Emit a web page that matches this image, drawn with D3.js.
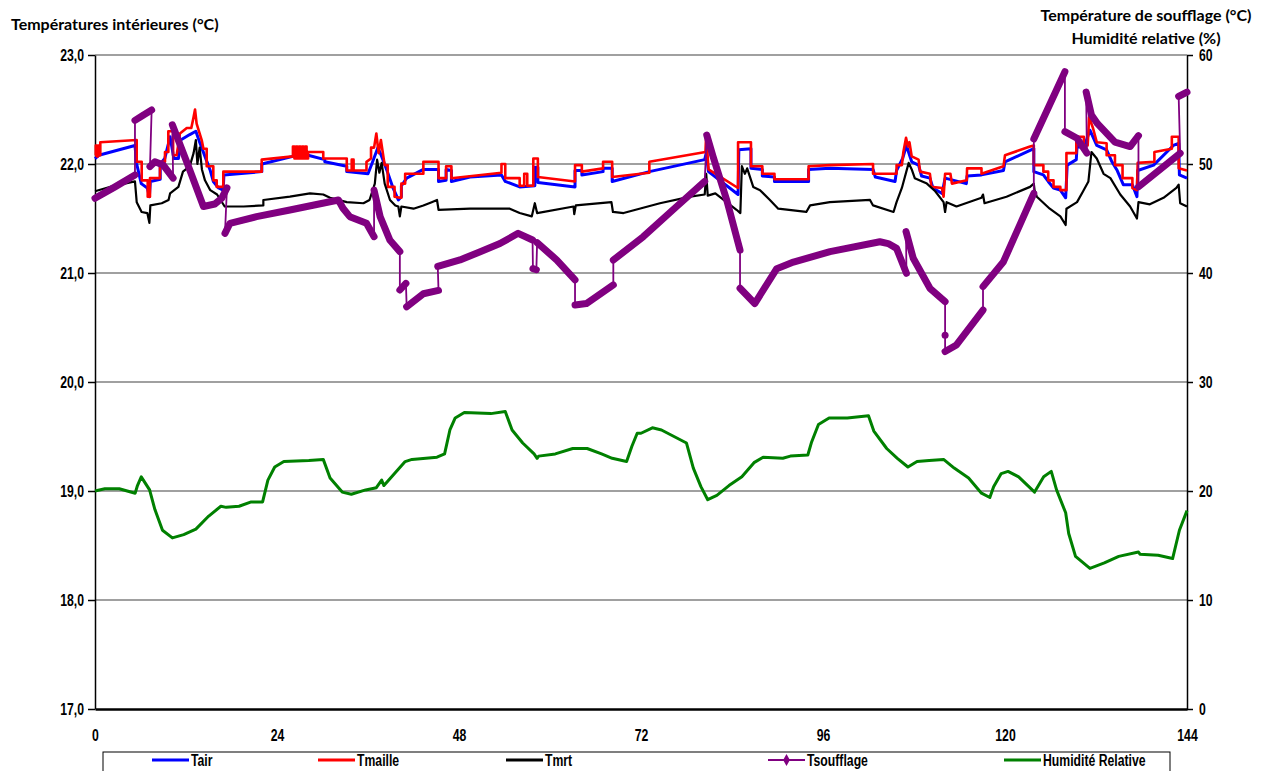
<!DOCTYPE html>
<html>
<head>
<meta charset="utf-8">
<script src="https://cdn.jsdelivr.net/npm/d3@7"></script>
<style>
  body { margin: 0; background: #fff; }
  svg text { font-family: "Liberation Sans", Arial, sans-serif; font-weight: bold; font-size: 17px; fill: #000; }
  svg text.title { font-family: Lato, "Open Sans", sans-serif; font-size: 16px; }
</style>
</head>
<body>
<svg id="chart" width="1263" height="771"></svg>
<script>
// Axis ticks
const hourTicks = [0, 24, 48, 72, 96, 120, 144];
const tempTicks = [17, 18, 19, 20, 21, 22, 23];
const pctTicks = [0, 10, 20, 30, 40, 50, 60];

const legendNames = ["Tair", "Tmaille", "Tmrt", "Tsoufflage", "Humidité Relative"];
const seriesColors = ["#0000ff", "#ff0000", "#000000", "#800080", "#008000"];

// Tair (°C) — [hour, value]
const tair = [
  [0,22.05],[0.5,22.08],[5.27,22.17],[5.5,22.0],[6.1,21.82],[6.9,21.78],[7.17,21.70],[7.3,21.84],[8.6,21.86],[8.6,22.0],
  [9.2,22.05],[9.9,22.25],[10.4,22.05],[11.0,22.05],[11.3,22.22],[12.5,22.27],[13.3,22.30],[13.8,22.2],[14.5,22.07],[15.2,21.94],
  [15.6,21.84],[16.3,21.78],[16.9,21.76],[17.0,21.90],[22.0,21.93],[22.0,22.0],[26.1,22.07],[28.1,22.08],[30.3,22.04],[30.3,22.02],
  [33.2,21.98],[33.2,21.93],[36.0,21.91],[36.5,22.0],[37.3,22.15],[37.8,22.07],[38.5,21.94],[39.3,21.78],[40.0,21.67],[40.4,21.7],
  [40.4,21.8],[41.1,21.87],[43.3,21.95],[45.3,21.95],[45.3,21.84],[46.3,21.85],[46.3,21.95],[47.0,21.94],[47.0,21.84],[49.45,21.88],
  [53.6,21.9],[54.1,21.84],[56.0,21.79],[58.0,21.8],[58.0,21.97],[58.4,21.97],[58.4,21.83],[63.3,21.79],[63.3,21.94],[64.2,21.94],
  [64.2,21.9],[67.0,21.93],[67.0,21.96],[68.2,21.96],[68.2,21.84],[73.1,21.93],[80.4,22.04],[80.6,22.1],[80.9,21.93],[84.8,21.72],
  [84.9,22.13],[86.5,22.14],[86.5,21.96],[88.0,21.95],[88.0,21.89],[89.6,21.88],[89.6,21.84],[94.1,21.84],[94.1,21.95],[96.9,21.96],
  [102.6,21.95],[102.9,21.88],[105.5,21.84],[105.7,21.94],[106.5,22.05],[107.0,22.17],[107.7,22.02],[108.6,21.99],[109.0,21.89],[110.1,21.87],
  [110.5,21.78],[111.7,21.73],[112.1,21.87],[114.9,21.82],[115.0,21.89],[116.9,21.9],[119.8,21.94],[120.0,22.02],[123.8,22.14],[123.8,21.93],
  [125.06,21.9],[125.7,21.84],[126.4,21.78],[127.3,21.76],[128.0,21.69],[128.2,21.99],[129.4,22.04],[129.5,22.16],[130.4,22.15],[131.2,22.31],
  [132.1,22.17],[133.4,22.13],[134.1,22.02],[134.8,21.94],[135.6,21.81],[136.8,21.81],[137.4,21.70],[137.5,21.94],[139.6,21.99],[142.2,22.17],
  [142.9,22.19],[143.0,21.90],[144,21.87]
];

// Tmaille (°C)
const tmaille = [
  [0,22.08],[0.1,22.08],[0.1,22.17],[0.25,22.17],[0.25,22.07],[0.4,22.07],[0.4,22.17],[0.55,22.17],[0.55,22.08],[0.7,22.08],
  [0.7,22.2],[5.5,22.22],[5.5,22.02],[6.16,22.02],[6.16,21.85],[6.95,21.85],
  [6.95,21.7],[7.25,21.7],[7.25,21.87],[8.57,21.87],[8.57,22.02],[9.23,22.02],[9.23,22.11],[9.67,22.11],[9.67,22.3],[10.3,22.3],
  [10.3,22.08],[10.77,22.08],[11.2,22.28],[12.1,22.33],[12.7,22.33],[13.0,22.43],[13.19,22.5],[13.4,22.37],[14.07,22.22],[14.3,22.14],
  [14.73,22.14],[14.73,21.98],[15.6,21.98],[15.6,21.85],[16.05,21.85],[16.05,21.79],[16.92,21.79],[16.92,21.93],[21.98,21.93],[21.98,22.04],
  [26.1,22.07],[26.1,22.16],[26.3,22.16],[26.3,22.05],[26.5,22.05],[26.5,22.16],[26.7,22.16],[26.7,22.05],[26.9,22.05],[26.9,22.16],
  [27.1,22.16],[27.1,22.05],[27.3,22.05],[27.3,22.16],[27.5,22.16],[27.5,22.05],[27.7,22.05],[27.7,22.16],[27.9,22.16],[27.9,22.05],
  [28.1,22.05],[28.1,22.11],[30.1,22.11],[30.1,22.05],
  [33.2,22.05],[33.2,21.94],[33.85,21.94],[33.85,22.04],[34.1,22.04],[34.1,21.94],[35.8,21.94],[35.8,22.02],[36.4,22.05],[36.4,22.15],
  [36.8,22.15],[37.1,22.28],[37.4,22.1],[37.7,22.22],[38.2,21.99],[38.6,21.99],[38.6,21.79],[39.5,21.79],[39.5,21.7],[40.2,21.69],
  [40.4,21.69],[40.4,21.82],[40.9,21.82],[40.9,21.91],[43.3,21.91],[43.3,22.02],[45.3,22.02],[45.3,21.87],[46.3,21.87],[46.3,21.98],
  [47.0,21.98],[47.0,21.87],[53.6,21.92],[53.6,22.0],[54.1,22.0],[54.1,21.87],[56.0,21.87],[56.0,21.8],[56.6,21.8],[56.6,21.91],
  [57.0,21.91],[57.0,21.8],[57.8,21.8],[57.8,22.05],[58.4,22.05],[58.4,21.88],[63.3,21.84],[63.3,21.99],[64.2,21.99],[64.2,21.93],
  [67.0,21.96],[67.0,22.02],[68.2,22.02],[68.2,21.88],[73.1,21.92],[73.1,22.02],[80.5,22.11],[80.6,22.28],[80.9,21.95],[84.8,21.78],
  [84.8,22.2],[86.5,22.2],[86.5,21.98],[88.0,21.98],[88.0,21.91],[89.6,21.91],[89.6,21.86],[94.1,21.86],[94.1,21.98],[96.9,21.99],
  [102.6,22.0],[102.6,21.91],[105.7,21.91],[105.7,21.99],[106.4,21.99],[106.6,22.11],[106.95,22.24],[107.2,22.16],[107.4,22.2],[107.7,22.07],
  [108.6,22.04],[108.8,21.93],[110.1,21.91],[110.3,21.79],[111.7,21.78],[111.9,21.70],[112.1,21.91],[112.8,21.91],[113.0,21.82],[114.95,21.85],
  [115.0,21.96],[116.9,21.96],[116.9,21.91],[119.8,21.98],[120.0,22.08],[123.3,22.16],[123.8,22.17],[123.8,21.99],[125.06,21.99],[125.06,21.93],
  [125.7,21.93],[125.7,21.85],[126.4,21.85],[126.4,21.79],[127.3,21.79],[127.3,21.76],[128.1,21.76],[128.1,22.1],[129.4,22.1],[129.4,22.25],
  [130.4,22.25],[130.4,22.17],[130.9,22.17],[131.1,22.43],[131.6,22.33],[132.1,22.2],[133.4,22.19],[133.4,22.08],[134.5,22.08],[134.5,21.99],
  [135.5,21.99],[135.5,21.87],[136.8,21.87],[136.8,21.78],[137.4,21.76],[137.5,22.01],[139.7,22.02],[139.7,22.11],[142.0,22.14],[142.0,22.25],
  [142.9,22.25],[142.9,21.96],[144,21.94]
];

// Tmrt (°C)
const tmrt = [
  [0,21.75],[2.5,21.8],[5.27,21.84],[5.5,21.65],[6.15,21.56],[6.9,21.55],[7.17,21.46],[7.3,21.62],[8.8,21.64],[9.7,21.67],
  [9.9,21.73],[11.0,21.79],[11.6,21.93],[12.5,21.98],[13.0,22.1],[13.3,22.22],[13.5,22.0],[13.8,22.15],[14.1,21.95],[14.5,21.85],
  [15.2,21.76],[16.1,21.72],[17.1,21.61],[19.6,21.61],[22.2,21.62],[22.2,21.67],[25.7,21.70],[28.35,21.73],[30.1,21.72],[31.0,21.69],
  [33.2,21.65],[35.4,21.64],[36.2,21.67],[36.9,21.82],[37.2,22.04],[37.5,21.92],[37.8,22.01],[38.2,21.82],[38.9,21.67],[39.6,21.62],
  [40.0,21.61],[40.2,21.52],[40.4,21.61],[42.0,21.59],[43.3,21.62],[44.4,21.65],[45.1,21.67],[45.3,21.58],[49.45,21.59],[54.7,21.59],
  [56.0,21.55],[57.6,21.52],[58.0,21.64],[58.3,21.55],[63.1,21.61],[63.2,21.54],[63.4,21.62],[68.1,21.65],[68.3,21.56],[69.7,21.55],
  [74.5,21.64],[78.5,21.70],[80.4,21.72],[80.6,21.91],[80.8,21.71],[81.8,21.73],[82.9,21.67],[84.6,21.58],[85.1,21.55],[85.3,21.98],
  [85.7,21.91],[86.0,21.96],[86.8,21.79],[87.7,21.76],[89.0,21.67],[90.1,21.59],[93.8,21.56],[94.3,21.62],[96.9,21.65],[102.2,21.67],
  [102.6,21.62],[105.3,21.56],[105.7,21.65],[106.4,21.78],[107.3,22.01],[107.7,21.95],[108.1,21.87],[109.7,21.82],[110.8,21.75],[111.9,21.65],
  [112.1,21.56],[112.3,21.65],[113.6,21.61],[116.9,21.69],[117.1,21.72],[117.3,21.64],[120.2,21.70],[123.3,21.79],[123.8,21.82],[123.9,21.76],
  [124.2,21.70],[125.9,21.59],[127.3,21.52],[128.0,21.44],[128.1,21.59],[129.5,21.65],[130.3,21.75],[131.0,21.84],[131.4,22.11],[132.1,22.05],
  [133.0,21.91],[133.9,21.87],[135.2,21.72],[136.5,21.61],[137.4,21.50],[137.6,21.65],[139.1,21.63],[140.9,21.69],[142.6,21.78],[142.9,21.81],
  [143.1,21.64],[144,21.61]
];

// Tsoufflage (°C) — continuous runs; consecutive runs are joined by a thin line
const tsoufflageRuns = [
  [[0,46.85],[2.64,47.9],[5.27,49.0]],
  [[5.27,54.0],[6.4,54.5],[7.47,54.95]],
  [[7.25,49.76],[7.9,50.2],[9.0,49.9],[10.3,48.7]],
  [[10.2,53.6],[12.2,50.0],[14.3,46.1],[15.8,46.33],[16.7,46.85],[17.4,47.8]],
  [[17.14,43.64],[17.8,44.56],[21.3,45.17],[25.7,45.78],[32.1,46.7],[32.7,45.94],[33.6,45.17],[35.8,44.56],[36.8,43.33]],
  [[36.8,47.6],[37.6,45.17],[38.9,43.0],[40.2,41.96]],
  [[40.2,38.44],[41.0,39.05]],
  [[41.1,36.9],[43.3,38.1],[45.3,38.4]],
  [[45.2,40.6],[48.13,41.2],[50.8,41.96],[53.4,42.7],[55.8,43.64],[57.7,43.03]],
  [[57.75,40.4],[58.2,40.3]],
  [[58.3,42.78],[60.9,41.19],[63.3,39.36]],
  [[63.3,37.06],[64.8,37.2],[68.35,38.9]],
  [[68.35,41.19],[72.3,43.33],[76.7,46.1],[80.4,48.4]],
  [[80.67,52.66],[81.5,50.68],[83.3,46.7],[85.06,42.1]],
  [[85.06,38.6],[87.0,37.2],[89.9,40.4],[92.1,41.0],[96.93,41.96],[103.5,42.87],[104.6,42.7],[105.7,42.26],[107.0,39.97]],
  [[106.95,43.79],[107.9,41.35],[110.1,38.6],[112.1,37.37]],
  [[112.1,34.3]],
  [[112.1,32.8],[113.6,33.4],[117.1,36.6]],
  [[117.1,38.75],[119.8,41.04],[123.8,47.3]],
  [[123.8,52.3],[127.9,58.47]],
  [[127.9,52.97],[129.5,52.36],[130.8,51.0]],
  [[130.7,56.6],[131.4,54.5],[132.2,53.7],[134.5,52.0],[136.5,51.6],[137.6,52.6]],
  [[137.6,47.9],[143.1,50.98]],
  [[142.9,56.2],[144,56.6]]
];

// Humidité relative (%)
const humidite = [
  [0,20.0],[1.3,20.2],[3.2,20.2],[5.3,19.8],[5.6,20.5],[6.1,21.3],[7.2,20.1],[7.9,18.3],[8.9,16.4],[10.2,15.7],
  [11.7,16.0],[13.3,16.5],[15.0,17.7],[16.6,18.6],[17.3,18.5],[19.0,18.6],[20.6,19.0],[22.1,19.0],[22.8,21.0],[23.7,22.2],
  [24.9,22.7],[28.2,22.8],[30.1,22.9],[31.0,21.2],[32.6,19.9],[33.8,19.7],[35.7,20.1],[37.1,20.3],[37.8,21.0],[38.1,20.5],
  [39.5,21.6],[40.9,22.7],[41.8,22.9],[45.1,23.1],[46.1,23.4],[46.8,25.6],[47.5,26.7],[48.7,27.2],[52.2,27.1],[54.1,27.3],
  [55.0,25.6],[56.4,24.4],[57.9,23.4],[58.3,23.0],[58.5,23.2],[60.7,23.4],[63.0,23.9],[64.9,23.9],[66.8,23.4],[68.2,23.0],
  [70.1,22.7],[70.8,24.1],[71.5,25.3],[72.0,25.3],[73.5,25.8],[74.7,25.6],[78.0,24.4],[78.9,22.1],[79.9,20.4],[80.8,19.2],
  [82.0,19.6],[83.6,20.5],[85.3,21.3],[86.9,22.6],[88.1,23.1],[90.7,23.0],[91.7,23.2],[94.0,23.3],[94.5,24.5],[95.4,26.1],
  [96.8,26.7],[99.2,26.7],[102.0,26.9],[102.7,25.5],[104.4,23.9],[105.8,23.0],[107.2,22.2],[108.4,22.7],[110.0,22.8],[111.9,22.9],
  [113.3,22.1],[115.2,21.2],[116.9,19.8],[118.0,19.4],[118.5,20.4],[119.5,21.6],[120.4,21.8],[121.8,21.3],[123.9,19.9],[125.1,21.3],
  [126.1,21.8],[126.8,20.1],[128.0,18.0],[128.4,16.1],[129.3,14.0],[131.2,12.9],[133.1,13.4],[135.0,14.0],[137.6,14.4],[137.8,14.2],
  [140.2,14.1],[142.1,13.8],[143.0,16.4],[144.0,18.2]
];

const svg = d3.select("#chart");
const x = d3.scaleLinear().domain([0, 144]).range([95, 1187]);
const yL = d3.scaleLinear().domain([17, 23]).range([709, 55]);
const yR = d3.scaleLinear().domain([0, 60]).range([709, 55]);

// Narrow bold labels: horizontal squeeze of a regular bold face
const squeeze = 0.72;
function narrow(sel) {
  sel.each(function () {
    const t = d3.select(this);
    const x0 = +(t.attr("x") || 0);
    t.attr("x", x0 / squeeze).attr("transform", `scale(${squeeze},1)`);
  });
}

// Horizontal gridlines
svg.append("g").selectAll("line").data(tempTicks.slice(1)).join("line")
  .attr("x1", x(0)).attr("x2", x(144))
  .attr("y1", d => yL(d)).attr("y2", d => yL(d))
  .attr("stroke", "#808080").attr("stroke-width", 1.5);

const comma = d => d3.format(".1f")(d).replace(".", ",");

// Axes
const gLeft = svg.append("g").attr("transform", `translate(${x(0)},0)`)
  .call(d3.axisLeft(yL).tickValues(tempTicks).tickFormat(comma).tickSize(7).tickSizeOuter(0).tickPadding(4));
const gRight = svg.append("g").attr("transform", `translate(${x(144)},0)`)
  .call(d3.axisRight(yR).tickValues(pctTicks).tickFormat(d3.format("d")).tickSize(6).tickSizeOuter(0).tickPadding(6));
const gBottom = svg.append("g").attr("transform", `translate(0,${yL(17)})`)
  .call(d3.axisBottom(x).tickValues(hourTicks).tickFormat(d3.format("d")).tickSize(0).tickSizeOuter(0).tickPadding(20));
[gLeft, gRight, gBottom].forEach(g => {
  g.attr("font-family", null).attr("font-size", null);
  g.selectAll("line,path").attr("stroke", "#000").attr("stroke-width", 1.5);
  narrow(g.selectAll("text"));
});
gBottom.select(".domain").attr("stroke-width", 2.5);

// Temperature series
const lineL = d3.line().x(d => x(d[0])).y(d => yL(d[1]));
const lineR = d3.line().x(d => x(d[0])).y(d => yR(d[1]));

const plot = svg.append("g").attr("fill", "none").attr("stroke-linejoin", "round");
plot.append("path").datum(tair).attr("d", lineL).attr("stroke", seriesColors[0]).attr("stroke-width", 3);
plot.append("path").datum(tmaille).attr("d", lineL).attr("stroke", seriesColors[1]).attr("stroke-width", 2.6);
plot.append("path").datum(tmrt).attr("d", lineL).attr("stroke", seriesColors[2]).attr("stroke-width", 2.2);

// Supply-air temperature: thin joining line, thick marker runs
plot.append("path").datum(tsoufflageRuns.flat()).attr("d", lineR)
  .attr("stroke", seriesColors[3]).attr("stroke-width", 1.8);
plot.selectAll("path.run").data(tsoufflageRuns.filter(r => r.length > 1)).join("path")
  .attr("class", "run").attr("d", lineR)
  .attr("stroke", seriesColors[3]).attr("stroke-width", 7).attr("stroke-linecap", "round");
plot.selectAll("circle.dot").data(tsoufflageRuns.filter(r => r.length === 1).map(r => r[0])).join("circle")
  .attr("class", "dot").attr("cx", d => x(d[0])).attr("cy", d => yR(d[1])).attr("r", 3.5)
  .attr("fill", seriesColors[3]).attr("stroke", "none");

// Relative humidity
plot.append("path").datum(humidite).attr("d", lineR).attr("stroke", seriesColors[4]).attr("stroke-width", 3);

// Axis titles
svg.append("text").attr("class", "title").attr("x", 11).attr("y", 30).text("Températures intérieures (°C)");
svg.append("text").attr("class", "title").attr("x", 1146).attr("y", 21).attr("text-anchor", "middle").text("Température de soufflage (°C)");
svg.append("text").attr("class", "title").attr("x", 1146).attr("y", 44).attr("text-anchor", "middle").text("Humidité relative (%)");

// Legend
const legend = svg.append("g");
legend.append("rect").attr("x", 103).attr("y", 752).attr("width", 1067).attr("height", 40)
  .attr("fill", "#fff").attr("stroke", "#000").attr("stroke-width", 1);
const legendX = [152, 318, 506, 768, 1004];
legendNames.forEach((name, i) => {
  const g = legend.append("g").attr("transform", `translate(${legendX[i]},760)`);
  g.append("line").attr("x1", 0).attr("x2", 37).attr("stroke", seriesColors[i]).attr("stroke-width", i === 3 ? 2 : 3);
  if (i === 3) {
    g.append("path").attr("d", d3.symbol(d3.symbolDiamond, 40)()).attr("transform", "translate(18.5,0)").attr("fill", seriesColors[i]);
  }
  g.append("text").attr("x", 39).attr("y", 6).text(name).call(narrow);
});
</script>
</body>
</html>
